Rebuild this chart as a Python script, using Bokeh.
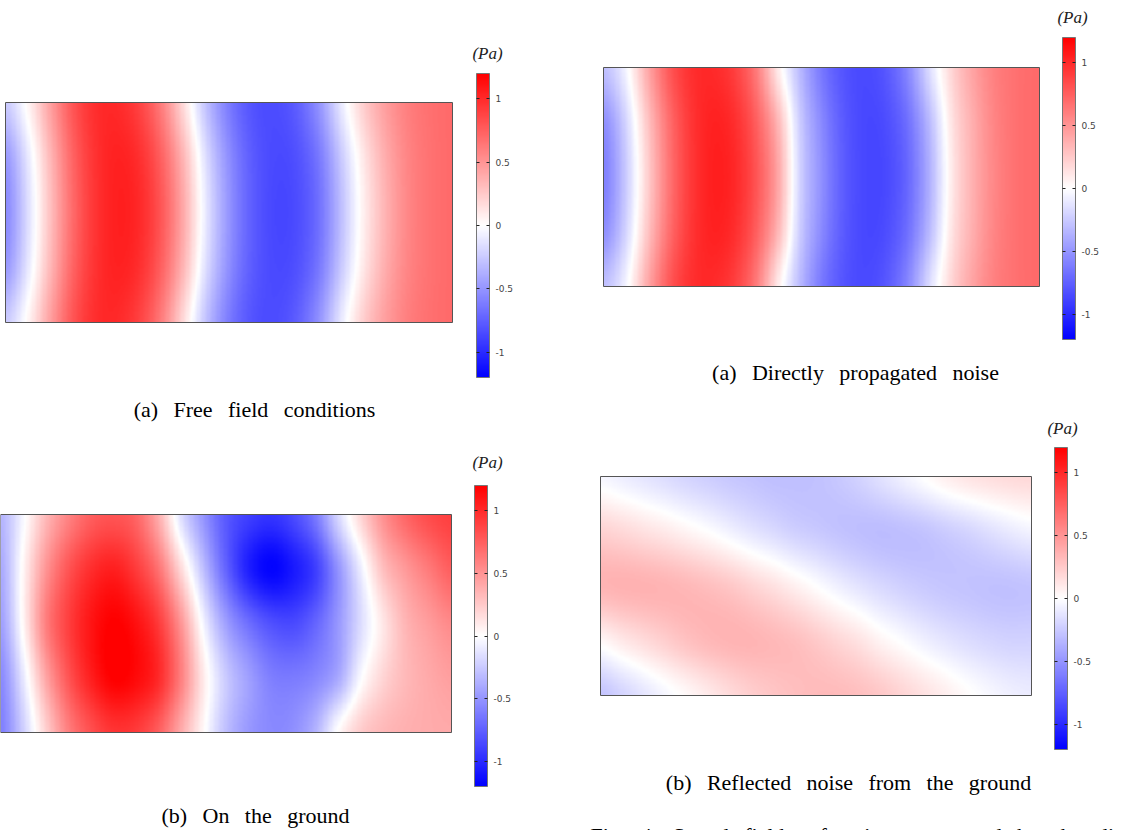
import numpy as np
from bokeh.plotting import figure
from bokeh.models import LinearColorMapper, ColorBar, FixedTicker, Label, Range1d, BoxAnnotation
from bokeh.layouts import column, row
from bokeh.embed import file_html
from bokeh.resources import INLINE

# ---------------- data ----------------
# pressure (Pa) sampled at 21 equally spaced columns across each field,
# rows listed from the top edge to the bottom edge (5 rows each)
x_frac = [0.00, 0.05, 0.10, 0.15, 0.20, 0.25, 0.30, 0.35, 0.40, 0.45, 0.50,
          0.55, 0.60, 0.65, 0.70, 0.75, 0.80, 0.85, 0.90, 0.95, 1.00]
row_frac = [1.00, 0.75, 0.50, 0.25, 0.00]   # top -> bottom

free_top = [-0.25, 0.05, 0.45, 0.80, 0.98, 1.00, 0.88, 0.60, 0.15, -0.30, -0.62, -0.80, -0.84, -0.76, -0.52, -0.12, 0.22, 0.45, 0.60, 0.67, 0.70]
free_q1 = [-0.48, -0.10, 0.34, 0.73, 0.96, 1.04, 0.97, 0.73, 0.32, -0.17, -0.53, -0.76, -0.85, -0.82, -0.64, -0.27, 0.10, 0.38, 0.57, 0.66, 0.70]
free_mid = [-0.55, -0.15, 0.30, 0.70, 0.95, 1.05, 1.00, 0.78, 0.38, -0.12, -0.50, -0.75, -0.86, -0.84, -0.68, -0.32, 0.06, 0.35, 0.56, 0.66, 0.70]
free_q3 = [-0.48, -0.10, 0.34, 0.73, 0.96, 1.04, 0.97, 0.73, 0.32, -0.17, -0.53, -0.76, -0.85, -0.82, -0.64, -0.27, 0.10, 0.38, 0.57, 0.66, 0.70]
free_bot = [-0.25, 0.05, 0.45, 0.80, 0.98, 1.00, 0.88, 0.60, 0.15, -0.30, -0.62, -0.80, -0.84, -0.76, -0.52, -0.12, 0.22, 0.45, 0.60, 0.67, 0.70]

direct_top = [-0.30, -0.05, 0.40, 0.78, 0.97, 1.00, 0.90, 0.62, 0.10, -0.32, -0.63, -0.80, -0.85, -0.78, -0.55, -0.15, 0.20, 0.44, 0.60, 0.67, 0.70]
direct_q1 = [-0.53, -0.20, 0.27, 0.68, 0.94, 1.04, 0.98, 0.75, 0.34, -0.23, -0.55, -0.77, -0.86, -0.83, -0.66, -0.31, 0.13, 0.39, 0.58, 0.67, 0.70]
direct_mid = [-0.60, -0.25, 0.22, 0.65, 0.93, 1.05, 1.01, 0.80, 0.42, -0.20, -0.52, -0.76, -0.86, -0.85, -0.70, -0.36, 0.10, 0.38, 0.57, 0.67, 0.70]
direct_q3 = [-0.53, -0.20, 0.27, 0.68, 0.94, 1.04, 0.98, 0.75, 0.34, -0.23, -0.55, -0.77, -0.86, -0.83, -0.66, -0.31, 0.13, 0.39, 0.58, 0.67, 0.70]
direct_bot = [-0.30, -0.05, 0.40, 0.78, 0.97, 1.00, 0.90, 0.62, 0.10, -0.32, -0.63, -0.80, -0.85, -0.78, -0.55, -0.15, 0.20, 0.44, 0.60, 0.67, 0.70]

ground_top = [-0.35, -0.03, 0.33, 0.58, 0.75, 0.80, 0.72, 0.38, -0.15, -0.50, -0.78, -0.90, -0.95, -0.85, -0.62, -0.18, 0.20, 0.52, 0.72, 0.84, 0.90]
ground_q1 = [-0.40, 0.05, 0.50, 0.80, 0.98, 1.05, 0.92, 0.66, 0.18, -0.30, -0.73, -1.05, -1.18, -1.08, -0.90, -0.50, -0.08, 0.30, 0.48, 0.62, 0.75]
ground_mid = [-0.45, 0.05, 0.60, 0.90, 1.10, 1.20, 1.12, 0.92, 0.50, -0.05, -0.45, -0.68, -0.82, -0.85, -0.72, -0.48, -0.16, 0.12, 0.35, 0.46, 0.55]
ground_q3 = [-0.55, -0.10, 0.42, 0.80, 1.05, 1.20, 1.15, 1.00, 0.60, 0.10, -0.25, -0.45, -0.60, -0.62, -0.56, -0.40, -0.02, 0.20, 0.33, 0.40, 0.45]
ground_bot = [-0.60, -0.22, 0.22, 0.60, 0.82, 0.95, 0.92, 0.75, 0.40, 0.03, -0.30, -0.48, -0.55, -0.52, -0.35, 0.02, 0.24, 0.33, 0.37, 0.39, 0.40]

refl_top = [-0.04, -0.08, -0.12, -0.16, -0.20, -0.23, -0.26, -0.28, -0.30, -0.30, -0.29, -0.26, -0.21, -0.14, -0.07, 0.00, 0.07, 0.12, 0.15, 0.17, 0.18]
refl_q1 = [0.21, 0.18, 0.14, 0.10, 0.05, 0.00, -0.06, -0.12, -0.17, -0.22, -0.25, -0.28, -0.30, -0.31, -0.30, -0.28, -0.24, -0.20, -0.15, -0.10, -0.06]
refl_mid = [0.35, 0.36, 0.36, 0.35, 0.33, 0.30, 0.26, 0.20, 0.14, 0.07, 0.00, -0.07, -0.13, -0.18, -0.22, -0.25, -0.27, -0.28, -0.29, -0.29, -0.28]
refl_q3 = [0.04, 0.11, 0.17, 0.23, 0.29, 0.33, 0.35, 0.35, 0.33, 0.30, 0.25, 0.19, 0.13, 0.05, -0.01, -0.07, -0.12, -0.16, -0.19, -0.21, -0.21]
refl_bot = [-0.28, -0.20, -0.12, -0.04, 0.03, 0.10, 0.17, 0.23, 0.27, 0.30, 0.32, 0.32, 0.30, 0.26, 0.20, 0.14, 0.08, 0.02, -0.03, -0.07, -0.09]

scale_low, scale_high = -1.2, 1.2
tick_values = [-1, -0.5, 0, 0.5, 1]
tick_labels = ["-1", "-0.5", "0", "0.5", "1"]
unit_label = "(Pa)"
captions = ["(a) Free field conditions", "(a) Directly propagated noise",
            "(b) On the ground", "(b) Reflected noise from the ground"]
footer = "Fig. 4. Sound fields of noise propagated by the direct and reflected paths"

# ---------------- display helpers ----------------
def _cr_axis(a, n, axis):
    """Catmull-Rom display smoothing of a coarse sampled grid along one axis."""
    m = a.shape[axis]
    u = np.linspace(0, m - 1, n)
    i = np.clip(np.floor(u).astype(int), 0, m - 2)
    t = u - i
    idx = [np.clip(i + k, 0, m - 1) for k in (-1, 0, 1, 2)]
    p0, p1, p2, p3 = [np.take(a, j, axis=axis) for j in idx]
    shp = [1] * a.ndim
    shp[axis] = n
    t = t.reshape(shp)
    return 0.5 * (2 * p1 + (-p0 + p2) * t + (2 * p0 - 5 * p1 + 4 * p2 - p3) * t ** 2
                  + (-p0 + 3 * p1 - 3 * p2 + p3) * t ** 3)

def field_image(rows, nx=360, ny=180):
    grid = np.array(rows, dtype=float)[::-1]          # bottom row first
    g = _cr_axis(grid, nx, 1)
    g = _cr_axis(g, ny, 0)
    return g.astype(np.float32)

def bwr(n=256):
    pal = []
    for k in range(n):
        v = -1 + 2 * k / (n - 1)
        if v < 0:
            c = int(round(255 * (1 + v)))
            pal.append("#%02x%02x%02x" % (c, c, 255))
        else:
            c = int(round(255 * (1 - v)))
            pal.append("#%02x%02x%02x" % (255, c, c))
    return pal

def spaced(s):
    # the typeset captions use wide (justified) word spacing
    return s.replace(" ", "\u2002\u2009")

mapper = LinearColorMapper(palette=bwr(), low=scale_low, high=scale_high)

SERIF = "Liberation Serif"

def panel(rows, origin, size, heat, cbar, unit_pos, caption, cap_pos, extra=None):
    ox, oy = origin
    W, H = size
    hx0, hy0, hx1, hy1 = heat
    hw, hh = hx1 - hx0, hy1 - hy0

    def dx(px):
        return (px - hx0) / hw

    def dy(py):
        return (hy1 - py) / hh

    p = figure(width=W, height=H, title=None,
               x_range=Range1d(dx(ox), dx(ox + W)), y_range=Range1d(dy(oy + H), dy(oy)),
               toolbar_location=None, output_backend="svg",
               x_axis_location=None, y_axis_location=None, min_border=0)
    p.xgrid.grid_line_color = None
    p.ygrid.grid_line_color = None
    p.outline_line_color = None
    p.border_fill_color = "white"
    p.image(image=[field_image(rows)], x=0, y=0, dw=1, dh=1, color_mapper=mapper)
    p.add_layout(BoxAnnotation(left=0, right=1, bottom=0, top=1, fill_alpha=0,
                               line_color="#555555", line_width=1, line_alpha=1))

    cb_left, cb_top, cb_bottom = cbar
    cb = ColorBar(color_mapper=mapper, ticker=FixedTicker(ticks=tick_values),
                  major_label_overrides=dict(zip(tick_values, tick_labels)),
                  location=(cb_left - ox, oy + H - cb_bottom), width=13,
                  height=cb_bottom - cb_top, padding=0, margin=0,
                  major_label_text_font="DejaVu Sans", major_label_text_font_size="9px",
                  major_label_text_color="#444444", label_standoff=6,
                  major_tick_line_color="#222222", major_tick_in=13, major_tick_out=0,
                  major_tick_line_dash="3 7",
                  bar_line_color="#777777", bar_line_width=1,
                  background_fill_alpha=0, border_line_color=None)
    p.add_layout(cb)
    p.add_layout(Label(x=dx(unit_pos[0]), y=dy(unit_pos[1]), text=unit_label,
                       text_align="center", text_baseline="middle", text_font=SERIF,
                       text_font_style="italic", text_font_size="17px", text_color="#222222"))
    p.add_layout(Label(x=dx(cap_pos[0]), y=dy(cap_pos[1]), text=spaced(caption),
                       text_align="center", text_baseline="middle", text_font=SERIF,
                       text_font_size="22px", text_color="#000000"))
    if extra is not None:
        p.add_layout(Label(x=dx(extra[0]), y=dy(extra[1]), text=spaced(extra[2]),
                           text_align="left", text_baseline="top", text_font=SERIF,
                           text_font_size="22px", text_color="#000000"))
    return p

# layout in page pixels: origin, size, heatmap box, colour bar (left, top, bottom), etc.
pA = panel([free_top, free_q1, free_mid, free_q3, free_bot],
           (0, 0), (560, 440), (5, 102, 452, 322), (476, 73, 377), (487, 53),
           captions[0], (254, 409))
pC = panel([ground_top, ground_q1, ground_mid, ground_q3, ground_bot],
           (0, 440), (560, 390), (0, 514, 451, 732), (474, 485, 786), (487, 462),
           captions[2], (255, 815))
pB = panel([direct_top, direct_q1, direct_mid, direct_q3, direct_bot],
           (560, 0), (566, 400), (603, 67, 1039, 286), (1062, 37, 339), (1072, 17),
           captions[1], (855, 372))
pD = panel([refl_top, refl_q1, refl_mid, refl_q3, refl_bot],
           (560, 400), (566, 430), (600, 476, 1031, 695), (1054, 447, 749), (1062, 428),
           captions[3], (848, 782), extra=(590, 822, footer))

layout = row(column(pA, pC, spacing=0), column(pB, pD, spacing=0), spacing=0)

open("out.html", "w").write(file_html(layout, INLINE))
